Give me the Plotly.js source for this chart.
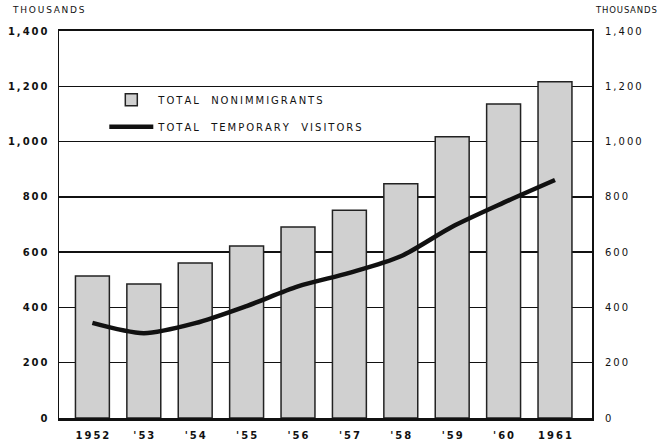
<!DOCTYPE html>
<html>
<head>
<meta charset="utf-8">
<script src="https://cdn.plot.ly/plotly-3.0.1.min.js"></script>
<style>html,body{margin:0;padding:0;background:#fff;}#chart{width:662px;height:441px;}</style>
</head>
<body>
<div id="chart"></div>
<script>
var years = ["1952", "'53", "'54", "'55", "'56", "'57", "'58", "'59", "'60", "1961"];
var nonimmigrants = [514, 485, 561, 622, 691, 752, 847, 1017, 1136, 1216];
var temporaryVisitors = [344, 307, 343, 405, 476, 525, 585, 692, 779, 861];
var yTicks = [0, 200, 400, 600, 800, 1000, 1200, 1400];
var yTickText = ["0", "200", "400", "600", "800", "1,000", "1,200", "1,400"];
var unitLabel = "THOUSANDS";
var seriesNames = ["TOTAL  NONIMMIGRANTS", "TOTAL  TEMPORARY  VISITORS"];

// letter-spacing helper (thin spaces between characters)
function spaced(s) { return s.split("").join("\u2009"); }
function hair(s) { return s.split("").join("\u200A"); }

var idx = years.map(function (_, i) { return i; });
var fontFam = "DejaVu Sans, Liberation Sans, sans-serif";

var traces = [
  {
    type: "bar",
    x: idx,
    y: nonimmigrants,
    name: spaced(seriesNames[0]),
    legendgroup: "a",
    width: 0.66,
    marker: { color: "#d0d0d0", line: { color: "#222", width: 1.5 } },
    hoverinfo: "y"
  },
  {
    type: "scatter",
    mode: "lines",
    x: idx,
    y: temporaryVisitors,
    name: spaced(seriesNames[1]),
    legendgroup: "b",
    line: { color: "#111", width: 4.5, shape: "spline", smoothing: 0.8 },
    hoverinfo: "y"
  },
  {
    type: "scatter",
    mode: "lines",
    x: [0],
    y: [0],
    yaxis: "y2",
    showlegend: false,
    hoverinfo: "skip",
    line: { color: "rgba(0,0,0,0)" }
  }
];

var layout = {
  width: 662,
  height: 441,
  margin: { l: 59, r: 70, t: 31, b: 23 },
  paper_bgcolor: "#fff",
  plot_bgcolor: "#fff",
  font: { family: fontFam, size: 10, color: "#111" },
  showlegend: true,
  legend: {
    x: 0.085, y: 0.86, xanchor: "left", yanchor: "top",
    bgcolor: "rgba(255,255,255,0)",
    font: { size: 10, color: "#111" },
    itemwidth: 44,
    tracegroupgap: 8
  },
  xaxis: {
    range: [-0.65, 9.72],
    tickmode: "array",
    tickvals: idx,
    ticktext: years.map(spaced),
    ticks: "",
    ticklabelstandoff: 6,
    showgrid: false,
    showline: true,
    linecolor: "#111",
    linewidth: 2.5,
    mirror: true,
    zeroline: false,
    tickfont: { size: 10, color: "#111", family: fontFam, weight: "bold" },
    fixedrange: true
  },
  yaxis: {
    range: [0, 1400],
    tickmode: "array",
    tickvals: yTicks,
    ticktext: yTickText.map(spaced),
    ticks: "",
    ticklabelstandoff: 8,
    showgrid: true,
    gridcolor: "#111",
    gridwidth: 1.5,
    showline: true,
    linecolor: "#111",
    linewidth: 1.5,
    mirror: true,
    zeroline: false,
    tickfont: { size: 10, color: "#111", weight: "bold" },
    fixedrange: true
  },
  yaxis2: {
    overlaying: "y",
    side: "right",
    range: [0, 1400],
    tickmode: "array",
    tickvals: yTicks,
    ticktext: yTickText.map(spaced),
    ticklabelstandoff: 12,
    showgrid: false,
    zeroline: false,
    showline: false,
    ticks: "",
    tickfont: { size: 10, color: "#111" },
    fixedrange: true
  },
  annotations: [
    { text: spaced(unitLabel), xref: "paper", yref: "paper", x: -0.092, y: 1.035, xanchor: "left", yanchor: "bottom", showarrow: false, font: { size: 9, color: "#111" } },
    { text: hair(unitLabel), xref: "paper", yref: "paper", x: 1.126, y: 1.035, xanchor: "right", yanchor: "bottom", showarrow: false, font: { size: 8.5, color: "#111" } }
  ]
};

Plotly.newPlot("chart", traces, layout, { displayModeBar: false, staticPlot: true });
</script>
</body>
</html>
